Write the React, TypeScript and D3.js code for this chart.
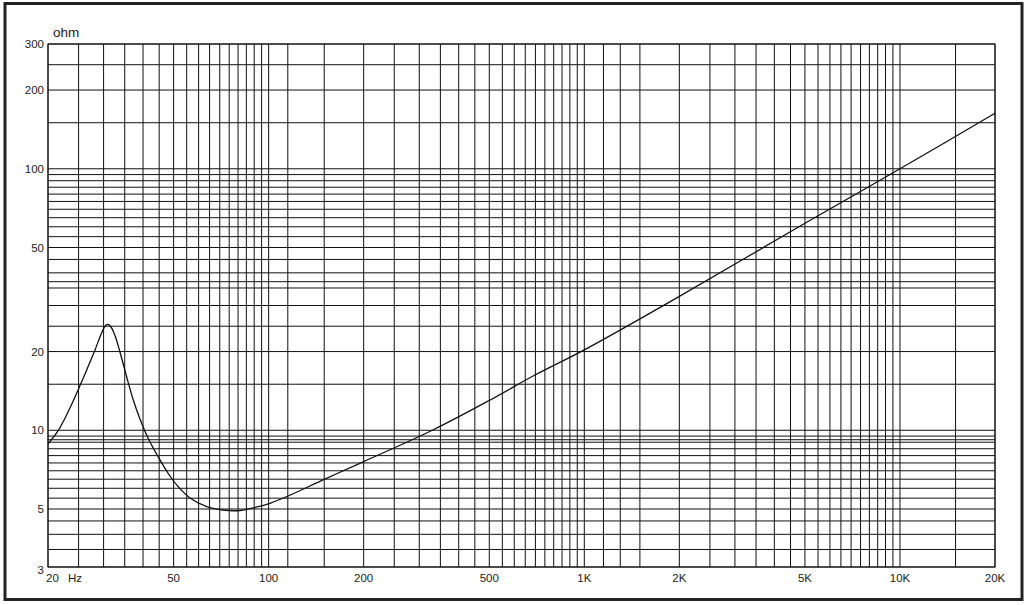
import React from "react";
import * as d3 from "d3";

// Impedance curve (Hz, ohm)
const freqs = [20, 21.51, 23.14, 25.26, 26.78, 28.18, 29.66, 30.42, 30.98, 31.67, 32.37, 33.08, 33.81, 34.69, 35.51, 37.17, 39.12, 41.48, 45.26, 47.99, 51.13, 56.34, 63.63, 71.67, 81.12, 91.9, 101.5, 114.3, 150, 200, 330, 500, 700, 1000, 2000, 5000, 10000, 20000];
const ohms = [8.86, 9.94, 11.74, 14.82, 17.49, 20.28, 23.75, 25.16, 25.42, 24.83, 23.55, 21.85, 19.92, 17.77, 15.98, 13.17, 11.04, 9.34, 7.7, 6.86, 6.18, 5.51, 5.11, 4.955, 4.933, 5.089, 5.27, 5.58, 6.49, 7.59, 10, 13.0, 16.3, 20.3, 32.5, 61.9, 100, 163];

// Grid lines
const vGrid = [20, 25, 30, 35, 40, 45, 50, 55, 60, 65, 70, 75, 80, 85, 90, 95, 100, 115, 150, 200, 250, 300, 350, 400, 450, 500, 550, 600, 650, 700, 750, 800, 850, 900, 950, 1000, 1150, 1300, 1500, 2000, 2500, 3000, 3500, 4000, 4500, 5000, 5500, 6000, 6500, 7000, 7500, 8000, 8500, 9000, 9500, 10000, 15000, 20000];
const hGrid = [3, 3.5, 4, 4.5, 5, 5.5, 6, 6.5, 7, 7.5, 8, 8.5, 9, 9.2, 9.5, 10, 15, 20, 25, 30, 35, 37, 40, 45, 50, 55, 60, 65, 70, 75, 80, 85, 90, 95, 100, 150, 200, 250, 300];

// Tick labels
const xTickVals = [50, 100, 200, 500, 1000, 2000, 5000, 10000, 20000];
const xTickText = ["50", "100", "200", "500", "1K", "2K", "5K", "10K", "20K"];
const yTickVals = [300, 200, 100, 50, 20, 10, 5, 3];

const W = 1027, H = 605;
const L = 48, R = 995, T = 44, B = 567;

export default function App() {
  const x = d3.scaleLog().domain([20, 20000]).range([L, R]);
  const y = d3.scaleLog().domain([3, 300]).range([B, T]);
  const pts: [number, number][] = freqs.map((f, i) => [x(f), y(ohms[i])]);
  const line = d3.line().curve(d3.curveCatmullRom.alpha(0.5))(pts) || "";
  const font = "'Liberation Sans', Arial, sans-serif";

  return (
    <div style={{ position: "fixed", left: 0, top: 0 }}>
      <svg width={W} height={H} style={{ display: "block", background: "#fff" }}>
        <rect x={5} y={3.5} width={1017} height={596} fill="#fff" stroke="#222" strokeWidth={3} />
        <g stroke="#111" strokeWidth={1}>
          {vGrid.map((f) => (
            <line key={"v" + f} x1={x(f)} x2={x(f)} y1={T} y2={B} />
          ))}
          {hGrid.map((v) => (
            <line key={"h" + v} x1={L} x2={R} y1={y(v)} y2={y(v)} />
          ))}
        </g>
        <rect x={L} y={T} width={R - L} height={B - T} fill="none" stroke="#111" strokeWidth={1} />
        <path d={line} fill="none" stroke="#111" strokeWidth={1.3} />
        <g fontFamily={font} fontSize={11.5} fill="#222">
          {yTickVals.map((v) => (
            <text key={"y" + v} x={44} y={y(v) + (v === 3 ? 3 : 0)} dy="0.35em" textAnchor="end">
              {v}
            </text>
          ))}
          {xTickVals.map((f, i) => (
            <text key={"x" + f} x={x(f)} y={582} textAnchor="middle">
              {xTickText[i]}
            </text>
          ))}
          <text x={46} y={582}>20</text>
          <text x={68} y={582}>Hz</text>
          <text x={53} y={37} fontSize={13.5}>ohm</text>
        </g>
      </svg>
    </div>
  );
}
